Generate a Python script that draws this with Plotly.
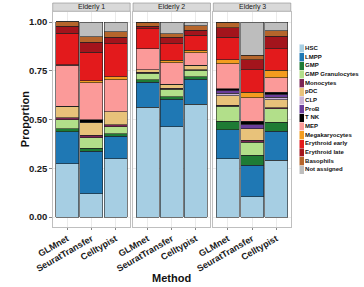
import plotly.graph_objects as go

W, H = 364, 287

methods = ["GLMnet", "SeuratTransfer", "Celltypist"]
panels = ["Elderly 1", "Elderly 2", "Elderly 3"]
cell_types = ["HSC", "LMPP", "GMP", "GMP Granulocytes", "Monocytes", "pDC", "CLP", "ProB",
              "T NK", "MEP", "Megakaryocytes", "Erythroid early", "Erythroid late",
              "Basophils", "Not assigned"]
colors = ["#a6cee3", "#1f78b4", "#1e7b34", "#b2df8a", "#7b2454", "#e8c27a", "#cab2d6",
          "#6a3d9a", "#000000", "#fb9a99", "#f39c1f", "#e31a1c", "#a3141c", "#b5652b",
          "#bdbdbd"]

# proportions per cell type (same order as cell_types)
e1_glmnet     = [0.274, 0.162, 0.017, 0.046, 0.010, 0.058, 0.0, 0.0, 0.0, 0.210, 0.003, 0.163, 0.034, 0.024, 0.0]
e1_seurat     = [0.120, 0.218, 0.015, 0.053, 0.012, 0.068, 0.0, 0.0, 0.012, 0.190, 0.012, 0.145, 0.051, 0.029, 0.075]
e1_celltypist = [0.300, 0.114, 0.014, 0.034, 0.012, 0.065, 0.0, 0.0, 0.0, 0.166, 0.013, 0.171, 0.034, 0.026, 0.051]
e2_glmnet     = [0.564, 0.128, 0.012, 0.034, 0.004, 0.013, 0.0, 0.0, 0.0, 0.108, 0.0, 0.103, 0.012, 0.021, 0.0]
e2_seurat     = [0.462, 0.142, 0.012, 0.038, 0.005, 0.022, 0.0, 0.0, 0.0, 0.109, 0.014, 0.085, 0.034, 0.017, 0.060]
e2_celltypist = [0.578, 0.128, 0.012, 0.034, 0.004, 0.022, 0.0, 0.0, 0.0, 0.065, 0.012, 0.077, 0.026, 0.022, 0.019]
e3_glmnet     = [0.299, 0.149, 0.044, 0.075, 0.005, 0.051, 0.012, 0.014, 0.009, 0.128, 0.021, 0.116, 0.048, 0.029, 0.0]
e3_seurat     = [0.103, 0.162, 0.051, 0.068, 0.009, 0.060, 0.0, 0.022, 0.017, 0.120, 0.029, 0.115, 0.051, 0.022, 0.171]
e3_celltypist = [0.291, 0.150, 0.046, 0.068, 0.005, 0.041, 0.014, 0.014, 0.012, 0.074, 0.038, 0.111, 0.063, 0.027, 0.046]

panel_data = [
    [e1_glmnet, e1_seurat, e1_celltypist],
    [e2_glmnet, e2_seurat, e2_celltypist],
    [e3_glmnet, e3_seurat, e3_celltypist],
]

def px(x):
    return x / W

def py(y):
    return 1 - y / H

FONT = "Liberation Sans, Arial, sans-serif"
panel_px = [(36.5, 118.0), (121.0, 202.5), (205.5, 287.0)]
plot_top, plot_bot = 12.25, 226.75

fig = go.Figure()

for p, rows in enumerate(panel_data):
    ax = "" if p == 0 else str(p + 1)
    for k, ct in enumerate(cell_types):
        fig.add_trace(go.Bar(
            x=methods, y=[rows[m][k] for m in range(3)], name=ct,
            xaxis="x" + ax, yaxis="y" + ax,
            marker=dict(color=colors[k], line=dict(color="#222222", width=0.6)),
            width=0.95, showlegend=False, hoverinfo="name+y"))

# legend drawn on an auxiliary axis
fig.add_trace(go.Bar(
    y=cell_types, x=[5] * len(cell_types), orientation="h", base=0, width=1,
    xaxis="x4", yaxis="y4", showlegend=False, hoverinfo="skip",
    marker=dict(color=colors, line=dict(color="#ffffff", width=0.4))))
fig.add_trace(go.Scatter(
    y=cell_types, x=[6] * len(cell_types), mode="text", text=cell_types,
    textposition="middle right", xaxis="x4", yaxis="y4", showlegend=False,
    hoverinfo="skip",
    textfont=dict(family=FONT, size=6, color="#111111", weight="bold")))

layout = dict(
    width=W, height=H, margin=dict(l=0, r=0, t=0, b=0),
    paper_bgcolor="white", plot_bgcolor="white",
    barmode="stack", bargap=0.05, showlegend=False,
    font=dict(family=FONT, color="#1a1a1a"),
)

for p in range(3):
    ax = "" if p == 0 else str(p + 1)
    x0, x1 = panel_px[p]
    layout["xaxis" + ax] = dict(
        domain=[px(x0), px(x1)], anchor="y" + ax, type="category",
        categoryorder="array", categoryarray=methods, range=[-0.6, 2.6],
        showline=True, mirror=True, linecolor="#bfbfbf", linewidth=0.8,
        showgrid=True, gridcolor="#ebebeb", gridwidth=0.6,
        ticks="outside", ticklen=2.5, tickcolor="#888888", tickwidth=0.6,
        tickangle=-30, tickfont=dict(size=9, color="#1a1a1a", weight="bold"),
        zeroline=False, fixedrange=True)
    layout["yaxis" + ax] = dict(
        domain=[py(plot_bot), py(plot_top)], anchor="x" + ax, range=[-0.05, 1.05],
        tickvals=[0, 0.25, 0.5, 0.75, 1.0], tickformat=".2f",
        showline=True, mirror=True, linecolor="#bfbfbf", linewidth=0.8,
        showgrid=True, gridcolor="#ebebeb", gridwidth=0.6, zeroline=False,
        ticks="outside" if p == 0 else "", ticklen=2.5, tickcolor="#888888",
        tickwidth=0.6, showticklabels=(p == 0),
        tickfont=dict(size=9.5, color="#1a1a1a", weight="bold"), fixedrange=True)

layout["xaxis4"] = dict(domain=[px(296), 1.0], anchor="y4", range=[0, 68],
                        visible=False, fixedrange=True)
layout["yaxis4"] = dict(domain=[py(174.3), py(44.3)], anchor="x4", type="category",
                        categoryorder="array", categoryarray=cell_types,
                        range=[14.5, -0.5], visible=False, fixedrange=True)

shapes = []
annotations = []
for p in range(3):
    x0, x1 = panel_px[p]
    shapes.append(dict(type="rect", xref="paper", yref="paper",
                       x0=px(x0), x1=px(x1), y0=py(11.3), y1=py(3.0),
                       fillcolor="#d9d9d9", line=dict(color="#8c8c8c", width=0.6),
                       layer="below"))
    annotations.append(dict(text=panels[p], xref="paper", yref="paper",
                            x=px((x0 + x1) / 2), y=py(7.2), showarrow=False,
                            xanchor="center", yanchor="middle",
                            font=dict(size=7, color="#1a1a1a")))

annotations.append(dict(text="Proportion", xref="paper", yref="paper",
                        x=px(7), y=py((plot_top + plot_bot) / 2), textangle=-90,
                        showarrow=False, xanchor="center", yanchor="middle",
                        font=dict(size=11, color="#111111", weight="bold")))
annotations.append(dict(text="Method", xref="paper", yref="paper",
                        x=px(161.7), y=py(278), showarrow=False,
                        xanchor="center", yanchor="middle",
                        font=dict(size=11, color="#111111", weight="bold")))

layout["shapes"] = shapes
layout["annotations"] = annotations

fig.update_layout(**layout)
fig.write_html("out.html", config={"displayModeBar": False},
               post_script="document.body.style.margin='0px';")
